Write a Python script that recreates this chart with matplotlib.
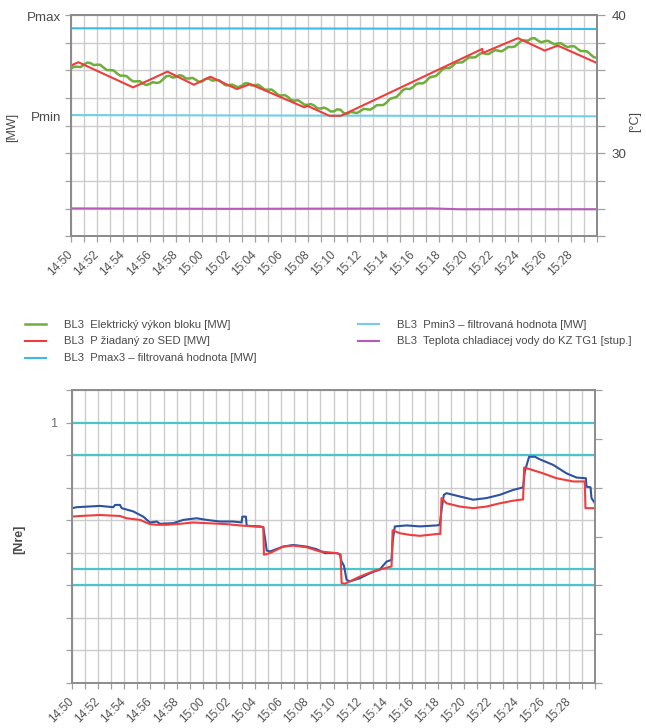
import numpy as np
import matplotlib
matplotlib.use("Agg")
import matplotlib.pyplot as plt

plt.rcParams['font.family'] = ['Liberation Sans', 'DejaVu Sans']

W, H = 646, 728

# ---- time axis (minutes after 14:50) ----
tick_labels = ["14:50", "14:52", "14:54", "14:56", "14:58", "15:00", "15:02",
               "15:04", "15:06", "15:08", "15:10", "15:12", "15:14", "15:16",
               "15:18", "15:20", "15:22", "15:24", "15:26", "15:28"]
tick_minutes = list(range(0, 39, 2))
minute_grid = list(range(0, 41))
t_end = 40

# ---- upper chart: block power [MW], sampled every 15 s ----
power_minutes = np.arange(0, 40.01, 0.25)
power_mw = [201.0, 202.7, 202.6, 202.4, 204.0, 205.6, 205.3, 203.8, 204.1, 204.0,
            202.0, 200.2, 200.2, 200.0, 197.9, 196.2, 196.2, 195.8, 193.6, 192.0,
            192.1, 192.2, 190.4, 189.4, 190.2, 191.5, 190.9, 191.3, 193.4, 195.7,
            196.1, 194.8, 195.2, 196.5, 196.0, 194.2, 194.1, 194.6, 193.2, 191.7,
            192.0, 193.9, 194.0, 192.6, 192.9, 193.0, 191.2, 189.3, 189.2, 189.8,
            188.6, 187.9, 189.0, 190.7, 190.6, 189.1, 189.4, 189.6, 187.9, 186.1,
            186.0, 186.2, 184.5, 182.3, 181.8, 182.2, 180.8, 178.6, 178.1, 178.5,
            177.0, 175.2, 175.1, 175.7, 174.5, 172.6, 172.4, 173.1, 172.0, 170.3,
            170.4, 171.9, 171.5, 169.1, 168.5, 170.0, 169.6, 169.2, 170.6, 172.2,
            171.9, 171.6, 173.0, 174.9, 174.9, 175.0, 176.8, 179.4, 180.1, 180.8,
            183.2, 185.9, 186.8, 186.5, 187.9, 190.2, 190.7, 190.6, 192.2, 194.8,
            195.5, 196.0, 198.3, 200.9, 201.7, 201.6, 203.2, 205.4, 205.7, 205.8,
            207.6, 209.4, 209.3, 209.5, 211.4, 212.6, 212.0, 211.8, 213.4, 214.7,
            214.1, 213.8, 215.3, 217.0, 216.8, 217.3, 219.5, 221.5, 221.6, 221.5,
            223.1, 223.2, 221.4, 220.3, 221.0, 221.4, 220.0, 218.9, 219.5, 219.6,
            217.9, 216.8, 217.4, 217.4, 215.5, 213.9, 214.0, 213.6, 211.4, 209.4,
            209.2]

setpoint_minutes = [0, 0.58, 4.74, 7.35, 9.36, 10.6, 12.62, 13.64, 17.75, 17.98,
                    19.64, 20.53, 31.26, 31.3, 33.98, 36.0, 37.0, 40.0]
setpoint_mw = [203.4, 205.9, 187.7, 199.1, 189.6, 195.4, 186.5, 190.1, 173.3, 174.4,
               167.2, 167.2, 215.5, 212.6, 223.3, 214.3, 217.9, 205.2]

pmax_minutes = [0, 20, 40]
pmax_mw = [230.4, 230.2, 229.9]
pmin_minutes = [0, 20, 40]
pmin_mw = [167.7, 167.3, 166.8]

# cooling water temperature [°C]
temp_minutes = [0, 12, 27.5, 29.5, 40]
temp_c = [26.03, 26.0, 26.03, 25.97, 25.97]

# ---- lower chart: relative values [Nre] ----
nre_levels = [1.0, 0.9, 0.55, 0.5]

actual_minutes = [0.0, 0.36, 2.14, 3.16, 3.29, 3.67, 3.80, 4.69, 5.45, 5.96, 6.48,
                  6.73, 7.74, 8.51, 9.53, 10.3, 11.31, 12.33, 12.97, 13.03, 13.30,
                  13.36, 14.37, 14.63, 14.78, 14.89, 15.14, 16.15, 16.92, 17.94,
                  18.71, 19.34, 20.24, 20.49, 20.62, 20.80, 21.0, 21.25, 22.02,
                  22.78, 23.55, 24.06, 24.44, 24.54, 24.69, 25.59, 26.6, 27.88,
                  28.13, 28.29, 28.44, 28.65, 29.66, 30.68, 31.70, 32.72, 33.74,
                  34.50, 34.63, 34.96, 35.40, 35.78, 36.80, 37.82, 38.59, 39.30,
                  39.35, 39.66, 39.73, 40.0]
actual_nre = [0.737, 0.740, 0.744, 0.740, 0.747, 0.747, 0.737, 0.727, 0.711, 0.693,
              0.696, 0.689, 0.691, 0.701, 0.706, 0.701, 0.696, 0.696, 0.693, 0.711,
              0.711, 0.683, 0.681, 0.679, 0.640, 0.607, 0.604, 0.619, 0.624, 0.619,
              0.611, 0.599, 0.599, 0.595, 0.573, 0.560, 0.517, 0.512, 0.522, 0.537,
              0.549, 0.573, 0.578, 0.640, 0.681, 0.684, 0.681, 0.684, 0.686, 0.740,
              0.778, 0.783, 0.773, 0.763, 0.768, 0.778, 0.793, 0.801, 0.850, 0.895,
              0.895, 0.887, 0.870, 0.844, 0.831, 0.829, 0.803, 0.801, 0.768, 0.752]

demand_minutes = [0, 0.61, 2.14, 3.67, 4.18, 5.2, 5.96, 6.48, 7.24, 8.26, 9.27,
                  10.3, 11.83, 12.84, 13.86, 14.63, 14.68, 15.14, 16.15, 16.92,
                  17.94, 18.96, 20.24, 20.54, 20.62, 20.87, 22.02, 23.04, 24.44,
                  24.52, 25.08, 25.84, 26.6, 28.0, 28.17, 28.26, 28.65, 29.66,
                  30.68, 31.70, 32.72, 33.74, 34.50, 34.58, 35.0, 36.03, 37.05,
                  38.33, 39.22, 39.27, 40.0]
demand_nre = [0.711, 0.713, 0.716, 0.713, 0.706, 0.701, 0.688, 0.686, 0.686, 0.689,
              0.693, 0.691, 0.688, 0.684, 0.681, 0.679, 0.594, 0.599, 0.619, 0.622,
              0.617, 0.604, 0.599, 0.595, 0.507, 0.505, 0.527, 0.543, 0.558, 0.669,
              0.660, 0.655, 0.652, 0.658, 0.658, 0.768, 0.752, 0.742, 0.737, 0.742,
              0.752, 0.760, 0.764, 0.862, 0.857, 0.844, 0.829, 0.819, 0.819, 0.737,
              0.737]

legend_labels = ["BL3  Elektrický výkon bloku [MW]",
                 "BL3  P žiadaný zo SED [MW]",
                 "BL3  Pmax3 \u2013 filtrovaná hodnota [MW]",
                 "BL3  Pmin3 \u2013 filtrovaná hodnota [MW]",
                 "BL3  Teplota chladiacej vody do KZ TG1 [stup.]"]

# ---- styling ----
C_GREEN = "#6fae3c"
C_RED = "#ef3d3d"
C_PMAX = "#3cbbe8"
C_PMIN = "#72cdea"
C_MAG = "#b65cb8"
C_BLUE = "#2c52a3"
C_LEVEL = "#4cc4cc"
C_GRID = "#cccccc"
C_SPINE = "#8c8c8c"
C_TEXT = "#4a4a4a"


def style_time_axis(ax):
    ax.set_xlim(0, t_end)
    ax.set_xticks(minute_grid, minor=True)
    ax.set_xticks(tick_minutes)
    ax.set_xticklabels(tick_labels, rotation=45, ha="right", va="center",
                       rotation_mode="anchor", fontsize=8.6, color="#555555")
    ax.tick_params(axis="x", which="both", length=4, width=0.9, color="#a0a0a0",
                   direction="out", pad=8)
    ax.grid(axis="x", which="both", color=C_GRID, linewidth=1.0)
    for s in ax.spines.values():
        s.set_color(C_SPINE)
        s.set_linewidth(1.4)
    ax.set_axisbelow(True)


fig = plt.figure(figsize=(W / 100, H / 100), dpi=100)

# ===== upper chart =====
ax1 = fig.add_axes([70.7 / W, 1 - 236.5 / H, (597.3 - 70.7) / W, (236.5 - 15) / H])
style_time_axis(ax1)
ax1.set_ylim(80, 240)
ax1.set_yticks(np.arange(80, 241, 20), minor=True)
ax1.set_yticks([167.0, 239.0])
ax1.set_yticklabels(["Pmin", "Pmax"], fontsize=9.6, color=C_TEXT)
ax1.tick_params(axis="y", which="major", length=0, pad=7)
ax1.tick_params(axis="y", which="minor", length=4, width=0.9, color="#a0a0a0")
ax1.grid(axis="y", which="minor", color=C_GRID, linewidth=1.0)

h_pmax, = ax1.plot(pmax_minutes, pmax_mw, color=C_PMAX, lw=1.5)
h_pmin, = ax1.plot(pmin_minutes, pmin_mw, color=C_PMIN, lw=1.5)
h_power, = ax1.plot(power_minutes, power_mw, color=C_GREEN, lw=1.8)
h_set, = ax1.plot(setpoint_minutes, setpoint_mw, color=C_RED, lw=1.5)

ax1.set_ylabel("[MW]", fontsize=9, color=C_TEXT)
ax1.yaxis.set_label_coords(-0.1, 0.494)

ax2 = ax1.twinx()
ax2.set_ylim(24, 40)
ax2.set_yticks([30, 40])
ax2.set_yticklabels(["30", "40"], fontsize=9.6, color=C_TEXT)
ax2.set_yticks(np.arange(24, 41, 2), minor=True)
ax2.tick_params(axis="y", which="both", length=6, width=0.9, color="#a0a0a0", pad=4)
for s in ax2.spines.values():
    s.set_color(C_SPINE)
    s.set_linewidth(1.4)
h_temp, = ax2.plot(temp_minutes, temp_c, color=C_MAG, lw=1.5)
ax2.set_ylabel("[°C]", fontsize=9, color=C_TEXT)
ax2.yaxis.set_label_coords(1.06, 0.517)

# ===== legend =====
leg_kw = dict(loc="upper left", frameon=False, fontsize=8.1, borderpad=0,
              borderaxespad=0, handlelength=1.9, handletextpad=1.6,
              labelspacing=0.62, labelcolor=C_TEXT)
fig.legend(handles=[h_power, h_set, h_pmax], labels=legend_labels[:3],
           bbox_to_anchor=(25 / W, 1 - 319.5 / H), **leg_kw)
fig.legend(handles=[h_pmin, h_temp], labels=legend_labels[3:],
           bbox_to_anchor=(358 / W, 1 - 319.5 / H), **leg_kw)

# ===== lower chart =====
ax3 = fig.add_axes([72 / W, 1 - 683 / H, (595 - 72) / W, (683 - 390) / H])
style_time_axis(ax3)
ax3.set_ylim(0.2, 1.1)
ax3.set_yticks(np.arange(0.2, 1.101, 0.1), minor=True)
ax3.set_yticks([1.0])
ax3.set_yticklabels(["1"], fontsize=9.2, color="#707070")
ax3.tick_params(axis="y", which="both", length=4, width=0.9, color="#a0a0a0", pad=6)
ax3.grid(axis="y", which="minor", color=C_GRID, linewidth=1.0)

for lvl in nre_levels:
    ax3.axhline(lvl, color=C_LEVEL, lw=1.6, zorder=1.5)

ax3.plot(actual_minutes, actual_nre, color=C_BLUE, lw=1.5)
ax3.plot(demand_minutes, demand_nre, color=C_RED, lw=1.5)

sec = ax3.secondary_yaxis("right")
sec.set_yticks(np.arange(0.2, 1.101, 0.15))
sec.set_yticklabels([])
sec.tick_params(axis="y", length=5, width=0.9, color="#a0a0a0")
sec.spines["right"].set_visible(False)

ax3.set_ylabel("[Nre]", fontsize=9, fontweight="bold", color=C_TEXT)
ax3.yaxis.set_label_coords(-0.09, 0.49)

fig.savefig("out.png", dpi=100, facecolor="white")
